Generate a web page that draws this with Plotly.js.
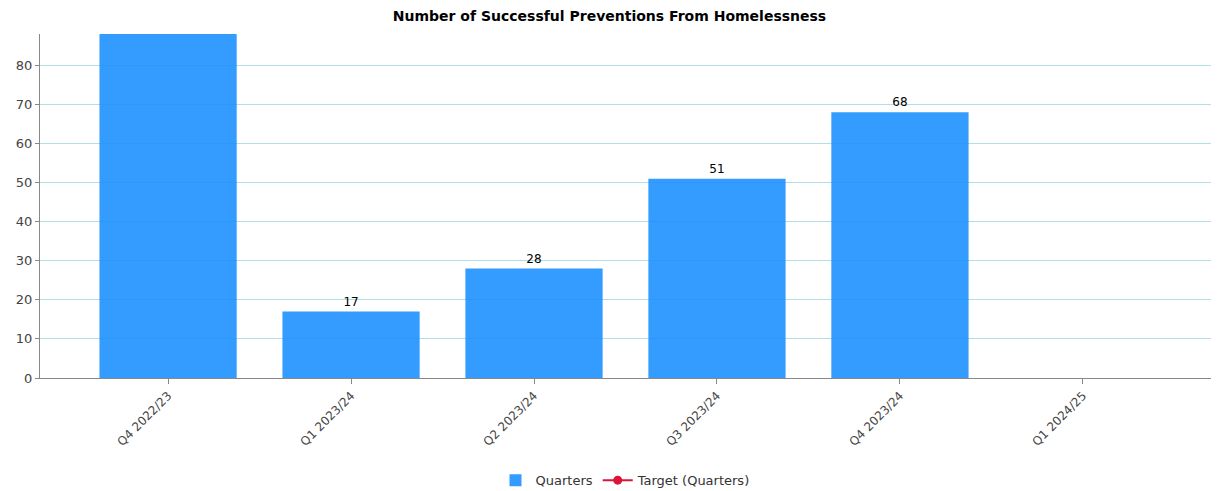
<!DOCTYPE html>
<html><head><meta charset="utf-8">
<script src="https://cdn.plot.ly/plotly-3.0.1.min.js"></script>
<style>html,body{margin:0;padding:0;background:#fff}#chart{width:1219px;height:491px}</style>
</head><body><div id="chart"></div>
<script>
const categories = ["Q4 2022/23","Q1 2023/24","Q2 2023/24","Q3 2023/24","Q4 2023/24","Q1 2024/25"];
const quarterValues = [88, 17, 28, 51, 68, null];
const targetValues = [null, null, null, null, null, null];
const yTicks = [0,10,20,30,40,50,60,70,80];

const font = "DejaVu Sans, Tahoma, sans-serif";
const data = [
  {type:"bar", name:"Quarters", x:categories, y:quarterValues,
   marker:{color:"rgba(30,144,255,0.9)"},
   text:quarterValues.map(v=>v==null?"":String(v)), textposition:"outside", cliponaxis:true,
   textfont:{family:font,size:12,color:"#000"}},
  {type:"scatter", mode:"lines+markers", name:"Target (Quarters)", x:categories, y:targetValues,
   line:{color:"#dc143c",width:2}, marker:{color:"#dc143c",size:9}}
];
const layout = {
  width:1219, height:491,
  margin:{l:40,r:8,t:34,b:113,autoexpand:false},
  paper_bgcolor:"#fff", plot_bgcolor:"#fff",
  title:{text:"<b>Number of Successful Preventions From Homelessness</b>", x:0.5, xanchor:"center", y:0.967, yanchor:"middle",
    font:{family:font,size:14,color:"#000"}},
  bargap:0.25,
  showlegend:true,
  legend:{orientation:"h", x:0.5, xanchor:"center", yref:"container", y:0.022, yanchor:"middle",
    itemwidth:20, tracegroupgap:0, font:{family:font,size:13,color:"#333"}},
  xaxis:{type:"category", range:[-0.7,5.7], tickangle:-45, tickfont:{family:font,size:12,color:"#444"},
    showline:true, linecolor:"#888", linewidth:1, ticks:"outside", ticklen:5, tickcolor:"#888", showgrid:false, automargin:false},
  yaxis:{range:[0,88], tickvals:yTicks, tickfont:{family:font,size:13,color:"#444"},
    showline:true, linecolor:"#888", linewidth:1, ticks:"outside", ticklen:4, tickcolor:"#888",
    gridcolor:"#b0e0e6", zeroline:false, automargin:false}
};
Plotly.newPlot("chart", data, layout, {displayModeBar:false, staticPlot:true});
</script></body></html>
